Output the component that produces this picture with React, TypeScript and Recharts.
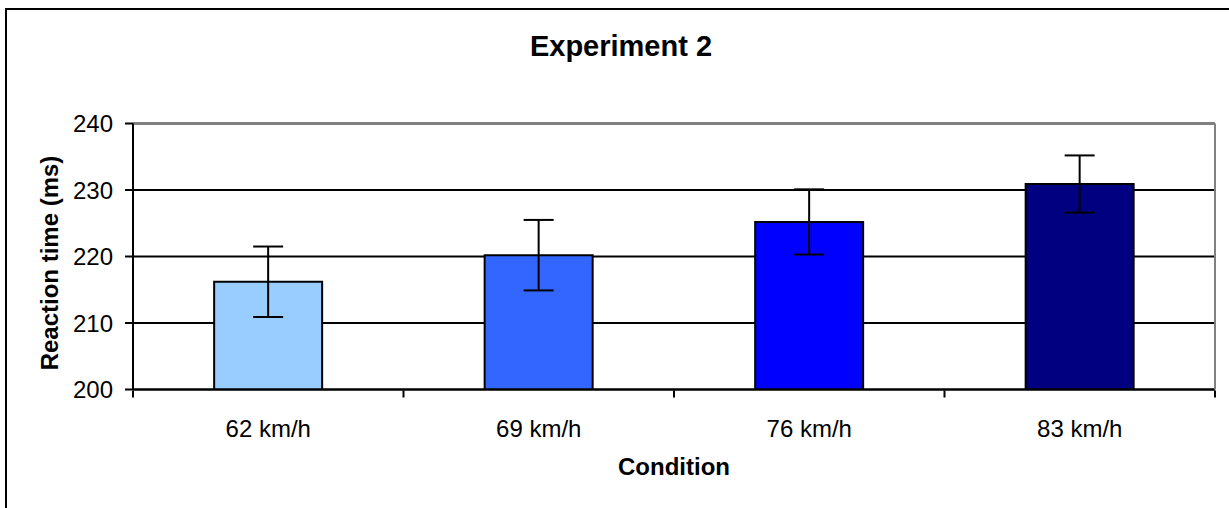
import {
  BarChart,
  Bar,
  XAxis,
  YAxis,
  CartesianGrid,
  ErrorBar,
  ReferenceLine,
  Cell,
} from "recharts";

// values
const conditions = ["62 km/h", "69 km/h", "76 km/h", "83 km/h"];
const reactionTimes = [216.2, 220.2, 225.2, 230.9];
const errors = [5.3, 5.3, 4.9, 4.3];
const barColors = ["#99CCFF", "#3366FF", "#0000FF", "#000080"];
const yTicks = [200, 210, 220, 230, 240];
const edgeTicks = [0, 1, 2, 3, 4];

const chartData = conditions.map((name, i) => ({
  name,
  idx: i,
  value: reactionTimes[i],
  err: errors[i],
}));

const font = '"Liberation Sans", Arial, sans-serif';

const App = () => {
  return (
    <div
      style={{
        position: "absolute",
        left: 0,
        top: 0,
        width: 1229,
        height: 508,
        overflow: "hidden",
        background: "#fff",
        fontFamily: font,
      }}
    >
      {/* outer chart frame, runs off the right and bottom edges */}
      <div
        style={{
          position: "absolute",
          left: 5,
          top: 8,
          width: 1400,
          height: 700,
          border: "2px solid #000",
          boxSizing: "border-box",
        }}
      />

      <BarChart
        width={1229}
        height={508}
        data={chartData}
        margin={{ top: 123.5, right: 13, left: 73, bottom: 116.5 }}
        barCategoryGap="30%"
        style={{ position: "absolute", left: 0, top: 0 }}
      >
        <CartesianGrid vertical={false} stroke="#000" strokeWidth={2} />
        <ReferenceLine y={240} stroke="#808080" strokeWidth={2} />

        <XAxis
          dataKey="name"
          height={1}
          axisLine={{ stroke: "#000", strokeWidth: 2 }}
          tickLine={false}
          tickSize={0}
          tickMargin={30}
          tick={{ fill: "#000", fontSize: 24, fontFamily: font }}
        />
        {/* tick marks between categories */}
        <XAxis
          xAxisId="edges"
          dataKey="idx"
          type="number"
          domain={[0, 4]}
          ticks={edgeTicks}
          allowDataOverflow
          height={1}
          axisLine={false}
          tickFormatter={() => ""}
          tick={{ fontSize: 1 }}
          tickSize={7}
          tickLine={{ stroke: "#000", strokeWidth: 2 }}
        />
        <YAxis
          width={60}
          domain={[200, 240]}
          ticks={yTicks}
          allowDataOverflow
          axisLine={{ stroke: "#000", strokeWidth: 2 }}
          tickLine={{ stroke: "#000", strokeWidth: 2 }}
          tickSize={8}
          tickMargin={12}
          tick={{ fill: "#000", fontSize: 24, fontFamily: font }}
        />
        {/* grey right border of the plot area */}
        <YAxis
          yAxisId="right"
          orientation="right"
          width={1}
          domain={[200, 240]}
          ticks={yTicks}
          tick={false}
          tickLine={false}
          axisLine={{ stroke: "#808080", strokeWidth: 2 }}
        />

        <Bar dataKey="value" stroke="#000" strokeWidth={2} isAnimationActive={false}>
          {chartData.map((d, i) => (
            <Cell key={`cell-${d.name}`} fill={barColors[i]} />
          ))}
          <ErrorBar dataKey="err" width={15} stroke="#000" strokeWidth={2} />
        </Bar>
      </BarChart>

      <div
        style={{
          position: "absolute",
          left: 621,
          top: 32,
          transform: "translateX(-50%)",
          fontSize: 29,
          lineHeight: "29px",
          fontWeight: "bold",
          whiteSpace: "nowrap",
        }}
      >
        Experiment 2
      </div>
      <div
        style={{
          position: "absolute",
          left: 674,
          top: 455,
          transform: "translateX(-50%)",
          fontSize: 24,
          lineHeight: "24px",
          fontWeight: "bold",
          whiteSpace: "nowrap",
        }}
      >
        Condition
      </div>
      <div
        style={{
          position: "absolute",
          left: 50,
          top: 263,
          transform: "translate(-50%, -50%) rotate(-90deg)",
          fontSize: 24,
          lineHeight: "24px",
          fontWeight: "bold",
          whiteSpace: "nowrap",
        }}
      >
        Reaction time (ms)
      </div>
    </div>
  );
};

export default App;
